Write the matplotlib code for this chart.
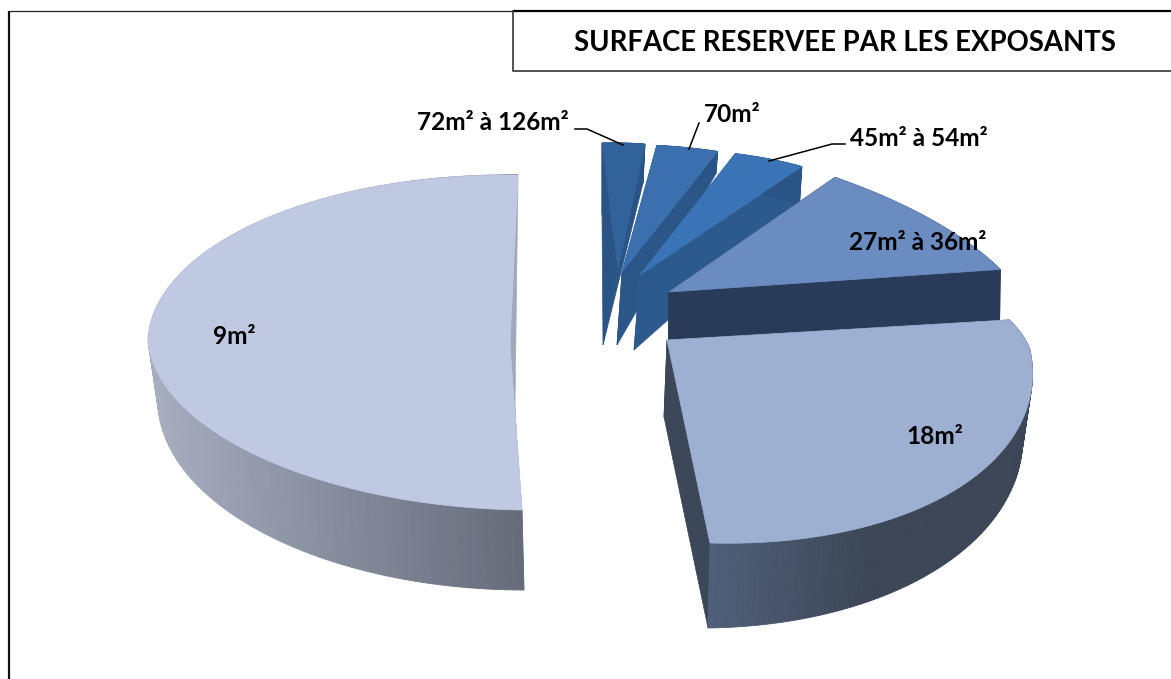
import numpy as np
import matplotlib
matplotlib.use("Agg")
import matplotlib.pyplot as plt
from matplotlib.colors import to_rgb

# share of exhibitors per reserved surface, clockwise from 12 o'clock
labels = ["72m² à 126m²", "70m²", "45m² à 54m²", "27m² à 36m²", "18m²", "9m²"]
shares = [3.0, 3.5, 4.3, 10.3, 28.9, 50.0]
title = "SURFACE RESERVEE PAR LES EXPOSANTS"

face_colors = ["#316299", "#3a70ae", "#3b74b6", "#6b8cc0", "#9db0d2", "#bfc9e2"]
side_colors = ["#2b5486", "#2c5687", "#2d5a8c", "#2a3a59", "#3c4859", "#a0a8b9"]
wall_from = ["#2b5486", "#2b5486", "#2b5486", "#2a3a59", "#50607a", "#a6aec0"]
wall_to = ["#2b5486", "#2b5486", "#2b5486", "#2a3a59", "#3c4656", "#666c7a"]

# projection of each exploded wedge on the page: apex, right vector, back/front up vectors
top_basis = [
    ((618, 268), (228, -6), (-16, -125), (-16, -125)),
    ((622, 272), (285, -10), (-19, -127), (-19, -127)),
    ((640, 275), (279, -19), (-17, -124), (-17, -124)),
    ((669, 292), (361, 17), (-78, -161), (-78, -161)),
    ((667, 340), (363, 10), (-41, -123), (-43, -203)),
    ((510, 345), (362, 5), (8, -170), (-12, -165)),
]
bottom_basis = [
    ((603, 345), (219, -183), (-1, -130), (-1, -130)),
    ((617, 345), (277, -122), (-12, -134), (-12, -134)),
    ((634, 350), (275, -39), (-9, -157), (-9, -157)),
    ((668, 367), (361, 17), (-78, -161), (-78, -161)),
    ((664, 417), (356, -5), (-41, -123), (-44, -211)),
    ((515, 405), (357, 0), (3, -230), (-9, -185)),
]

label_pos = [(493, 122), (732, 114), (919, 138), (918, 243), (935, 436), (234, 336)]
leaders = [
    ([575, 587, 623], [129, 129, 145]),
    ([699, 689], [123, 149]),
    ([845, 832, 769], [144, 144, 161]),
]


def rim(basis, t):
    (ax_, ay), (rx, ry), back, front = basis
    s, c = np.sin(t), np.cos(t)
    ux = np.where(c > 0, back[0], front[0])
    uy = np.where(c > 0, back[1], front[1])
    return ax_ + rx * s + ux * c, ay + ry * s + uy * c


plt.rcParams["font.family"] = ["Lato", "DejaVu Sans"]
fig = plt.figure(figsize=(11.71, 6.79), dpi=100)
ax = fig.add_axes([0, 0, 1, 1])
ax.set_xlim(0, 1171)
ax.set_ylim(679, 0)
ax.axis("off")

edges = np.radians(np.cumsum([0] + shares) * 3.6)

for i in range(len(shares)):
    t = np.linspace(edges[i], edges[i + 1], 120)
    tx, ty = rim(top_basis[i], t)
    bx, by = rim(bottom_basis[i], t)
    apex, apex_b = top_basis[i][0], bottom_basis[i][0]

    # two straight inner walls
    for k in (0, -1):
        ax.fill([apex[0], tx[k], bx[k], apex_b[0]], [apex[1], ty[k], by[k], apex_b[1]],
                color=side_colors[i], lw=0.5)

    # outer wall, shaded along the rim
    c0, c1 = np.array(to_rgb(wall_from[i])), np.array(to_rgb(wall_to[i]))
    xmin, xmax = tx.min(), tx.max()
    for k in range(len(t) - 1):
        f = (tx[k] - xmin) / max(xmax - xmin, 1)
        if i == 4:
            f = min(f * 2.0, 1.0)
        ax.fill([tx[k], tx[k + 1], bx[k + 1], bx[k]], [ty[k], ty[k + 1], by[k + 1], by[k]],
                color=c0 + (c1 - c0) * f, lw=0.6)

    ax.fill(np.r_[apex[0], tx], np.r_[apex[1], ty], color=face_colors[i], lw=0.5)

# frame runs off the right and bottom of the page, title box hangs from it
ax.plot([9, 9], [679, 11], color="#111111", lw=1.6, solid_capstyle="butt")
ax.plot([9, 513], [11, 11], color="#222222", lw=0.9, solid_capstyle="butt")
ax.plot([513, 1171], [11, 11], color="black", lw=1.6, solid_capstyle="butt")
ax.plot([513, 513, 1171], [11, 71, 71], color="#333333", lw=1.2)
ax.text(845, 43, title, fontsize=19.8, fontweight="bold", ha="center", va="center")

for lx, ly in leaders:
    ax.plot(lx, ly, color="black", lw=1.1)
for name, (x, y) in zip(labels, label_pos):
    ax.text(x, y, name, fontsize=17.6, fontweight="bold", ha="center", va="center")

fig.savefig("out.png", dpi=100)
